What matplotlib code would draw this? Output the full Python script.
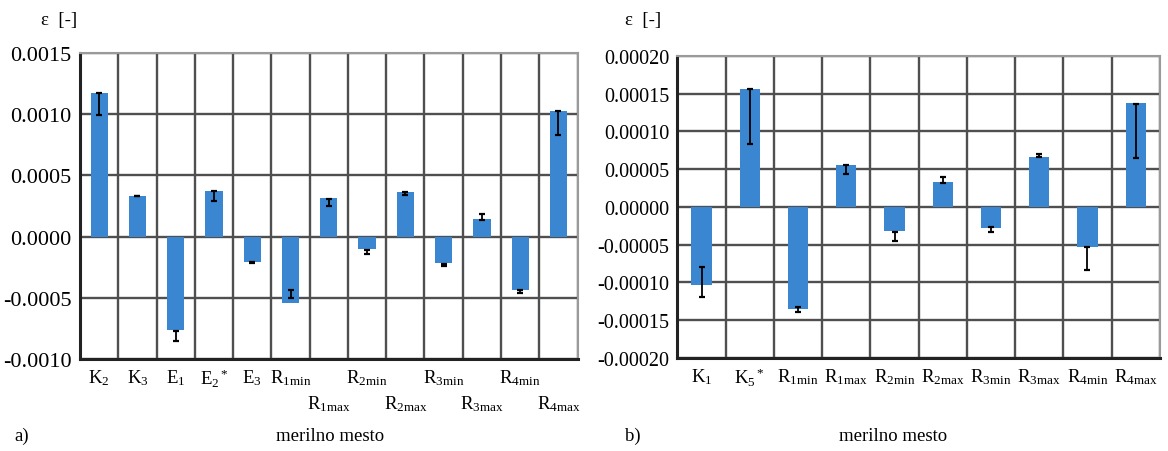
import matplotlib
matplotlib.use('Agg')
import matplotlib.pyplot as plt
import numpy as np

plt.rcParams['font.family'] = ['Liberation Serif', 'DejaVu Serif']
plt.rcParams['mathtext.fontset'] = 'custom'
plt.rcParams['mathtext.rm'] = 'Liberation Serif'
plt.rcParams['mathtext.it'] = 'Liberation Serif:italic'
plt.rcParams['mathtext.default'] = 'regular'

# panel a)
labels_a = [r'K$_2$', r'K$_3$', r'E$_1$', r'E$_2$$^*$', r'E$_3$', r'R$_{1min}$', r'R$_{1max}$',
            r'R$_{2min}$', r'R$_{2max}$', r'R$_{3min}$', r'R$_{3max}$', r'R$_{4min}$', r'R$_{4max}$']
values_a = [0.00117, 0.000334, -0.000765, 0.000372, -0.000207, -0.00054, 0.000315,
            -0.0001, 0.000362, -0.000212, 0.000147, -0.000437, 0.00103]
err_center_a = [0.00108, 0.000332, -0.000815, 0.00033, -0.000212, -0.00047, 0.00028,
                -0.000125, 0.000355, -0.000232, 0.00016, -0.00045, 0.00093]
err_half_a = [0.00009, 0.000003, 0.00004, 0.00004, 0.000004, 0.00003, 0.00003,
              0.000015, 0.000012, 0.000012, 0.000025, 0.000012, 0.0001]
row2_a = [6, 8, 10, 12]

# panel b)
labels_b = [r'K$_1$', r'K$_5$$^*$', r'R$_{1min}$', r'R$_{1max}$', r'R$_{2min}$',
            r'R$_{2max}$', r'R$_{3min}$', r'R$_{3max}$', r'R$_{4min}$', r'R$_{4max}$']
values_b = [-0.000104, 0.000156, -0.000135, 0.0000556, -0.0000318,
            0.0000335, -0.0000278, 0.000066, -0.000053, 0.0001376]
err_center_b = [-0.000099, 0.00012, -0.000136, 0.000049, -0.000039,
                0.000036, -0.00003, 0.000068, -0.000068, 0.000101]
err_half_b = [0.00002, 0.000036, 0.000003, 0.000006, 0.000006,
              0.000004, 0.000003, 0.000002, 0.000015, 0.000036]

blue = '#3b86d1'
grid = '#4f4f4f'

fig = plt.figure(figsize=(11.68, 4.52), dpi=100)
ax1 = fig.add_axes([0.0685, 0.2035, 0.426, 0.677])
ax2 = fig.add_axes([0.580, 0.206, 0.413, 0.668])


def draw(ax, labels, values, ec, eh, width, ylim, yticks, fmt, ysize):
    n = len(labels)
    x = np.arange(n)
    ax.bar(x, values, width=width, color=blue, zorder=3)
    ax.errorbar(x, ec, yerr=eh, fmt='none', ecolor='black', elinewidth=1.3,
                capsize=2.5, capthick=1.6, zorder=4)
    ax.set_xlim(-0.5, n - 0.5)
    ax.set_ylim(*ylim)
    ax.set_yticks(yticks)
    ax.set_yticklabels([fmt.format(v) for v in yticks], fontsize=ysize)
    for v in yticks:
        ax.axhline(v, color=grid, lw=1.7, zorder=1)
    for b in np.arange(n + 1) - 0.5:
        ax.axvline(b, color=grid, lw=1.7, zorder=1)
    ax.set_xticks(x)
    ax.set_xticklabels(labels, fontsize=13.5)
    ax.tick_params(length=0, pad=6)
    for s in ['top', 'right']:
        ax.spines[s].set_color('#9a9a9a')
        ax.spines[s].set_linewidth(1.5)
    for s in ['left', 'bottom']:
        ax.spines[s].set_color('#222222')
        ax.spines[s].set_linewidth(2.2)


draw(ax1, labels_a, values_a, err_center_a, err_half_a, 0.45,
     (-0.001, 0.0015), [-0.001, -0.0005, 0, 0.0005, 0.001, 0.0015], '{:.4f}', 16)
draw(ax2, labels_b, values_b, err_center_b, err_half_b, 0.42,
     (-0.0002, 0.0002), [-0.0002, -0.00015, -0.0001, -0.00005, 0, 0.00005, 0.0001, 0.00015, 0.0002],
     '{:.5f}', 14.5)

for i, lbl in enumerate(ax1.get_xticklabels()):
    if i in row2_a:
        lbl.set_y(-0.085)

fig.text(0.035, 0.945, r'ε  [-]', fontsize=13.5)
fig.text(0.535, 0.945, r'ε  [-]', fontsize=13.5)
fig.text(0.012, 0.025, 'a)', fontsize=13.5)
fig.text(0.283, 0.025, 'merilno mesto', fontsize=13.5, ha='center')
fig.text(0.535, 0.025, 'b)', fontsize=13.5)
fig.text(0.765, 0.025, 'merilno mesto', fontsize=13.5, ha='center')

fig.savefig('out.png', dpi=100, facecolor='white')
